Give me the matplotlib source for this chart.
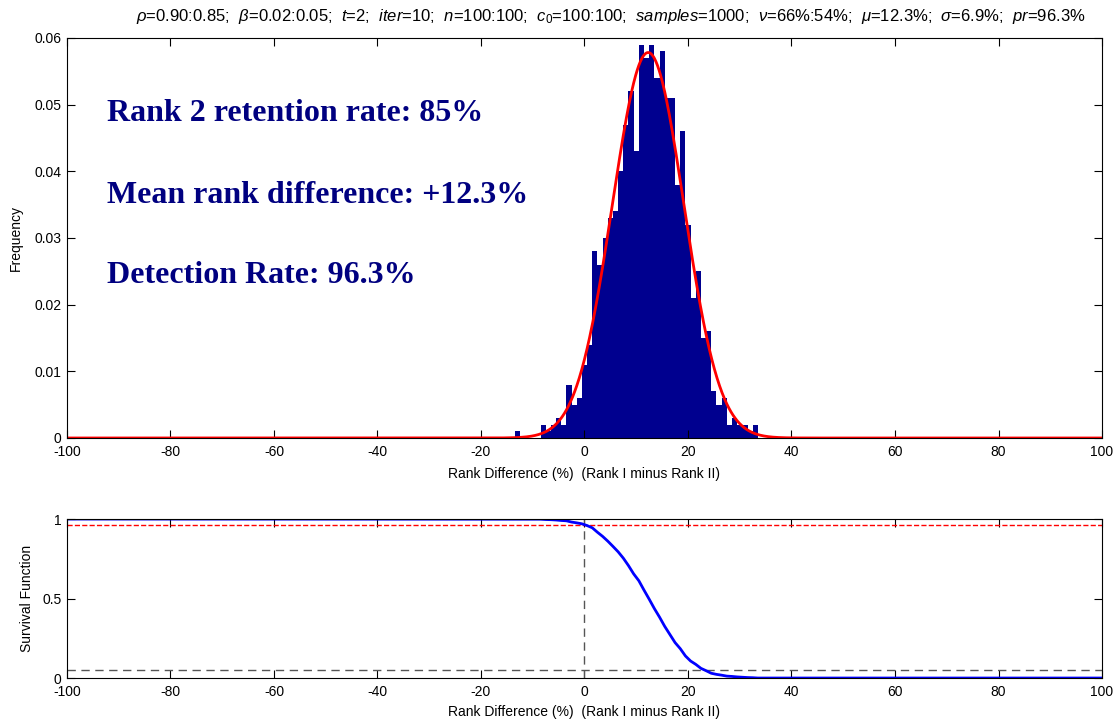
import matplotlib.pyplot as plt
import numpy as np

plt.rcParams['font.family'] = ['Liberation Sans', 'DejaVu Sans']
plt.rcParams['axes.unicode_minus'] = False
plt.rcParams['mathtext.fontset'] = 'custom'
plt.rcParams['mathtext.rm'] = 'Liberation Sans'
plt.rcParams['mathtext.it'] = 'Liberation Sans:italic'

# histogram of rank differences (%), 1000 samples, bin width 1
bin_centers = np.arange(-13, 34)
counts = [1, 0, 0, 0, 0, 2, 1, 2, 3, 2, 8, 5, 6,
          11, 14, 28, 26, 30, 33, 34, 40, 47, 52, 43,
          59, 57, 59, 54, 58, 51, 51, 38, 46, 32, 21, 25,
          15, 16, 7, 5, 6, 2, 3, 2, 2, 1, 2]
n_samples = 1000
mu, sigma = 12.3, 6.9          # fitted normal, from title
detection_rate = 0.963
low_level = 0.05

texts = ['Rank 2 retention rate: 85%',
         'Mean rank difference: +12.3%',
         'Detection Rate: 96.3%']
title = (r'$\rho$=0.90:0.85;  $\beta$=0.02:0.05;  $t$=2;  $iter$=10;  $n$=100:100;  '
         r'$c_0$=100:100;  $samples$=1000;  $\nu$=66%:54%;  $\mu$=12.3%;  $\sigma$=6.9%;  $pr$=96.3%')

freq = np.array(counts) / n_samples
xs = np.linspace(-100, 100, 2001)
pdf = np.exp(-0.5 * ((xs - mu) / sigma) ** 2) / (sigma * np.sqrt(2 * np.pi))

# empirical survival function at bin edges
edges = np.concatenate(([-100], bin_centers + 0.5, [100]))
surv = np.concatenate(([1.0], 1 - np.cumsum(freq), [0.0]))

navy = '#00008F'
fig = plt.figure(figsize=(11.18, 7.23), dpi=100)

ax1 = fig.add_axes([0.0599, 0.3942, 0.9258, 0.5533])
ax1.bar(bin_centers, freq, width=1.0, color=navy, edgecolor='none')
ax1.plot(xs, pdf, color='red', lw=2)
ax1.set_xlim(-100, 100)
ax1.set_ylim(0, 0.06)
ax1.set_xticks(np.arange(-100, 101, 20))
ax1.set_yticks(np.arange(0, 0.061, 0.01))
ax1.set_yticklabels(['0', '0.01', '0.02', '0.03', '0.04', '0.05', '0.06'])
ax1.set_xlabel('Rank Difference (%)  (Rank I minus Rank II)', fontsize=10, labelpad=6)
ax1.set_ylabel('Frequency', fontsize=10, labelpad=8)
ax1.set_title(title, fontsize=12, pad=12, x=0.525)
for t, yy in zip(texts, [0.0487, 0.0364, 0.0244]):
    ax1.text(-92.3, yy, t, fontsize=23, fontweight='bold', family='Liberation Serif',
             color='#000080', va='center', ha='left')

ax2 = fig.add_axes([0.0599, 0.0622, 0.9258, 0.2199])
ax2.plot([-100, 100], [detection_rate, detection_rate], '--', color='red', lw=1)
ax2.plot([-100, 100], [low_level, low_level], '--', color='#555555', lw=1, dashes=(6, 4))
ax2.plot([0, 0], [0, 1], '--', color='#555555', lw=1, dashes=(6, 4))
ax2.plot(edges, surv, color='blue', lw=2)
ax2.set_xlim(-100, 100)
ax2.set_ylim(0, 1)
ax2.set_xticks(np.arange(-100, 101, 20))
ax2.set_yticks([0, 0.5, 1])
ax2.set_yticklabels(['0', '0.5', '1'])
ax2.set_xlabel('Rank Difference (%)  (Rank I minus Rank II)', fontsize=10, labelpad=4)
ax2.set_ylabel('Survival Function', fontsize=10, labelpad=6)

for ax in (ax1, ax2):
    ax.tick_params(direction='in', top=True, right=True, length=6, labelsize=10)
    ax.tick_params(axis='x', pad=5)
    ax.tick_params(axis='y', pad=4)

fig.savefig('out.png', dpi=100)
